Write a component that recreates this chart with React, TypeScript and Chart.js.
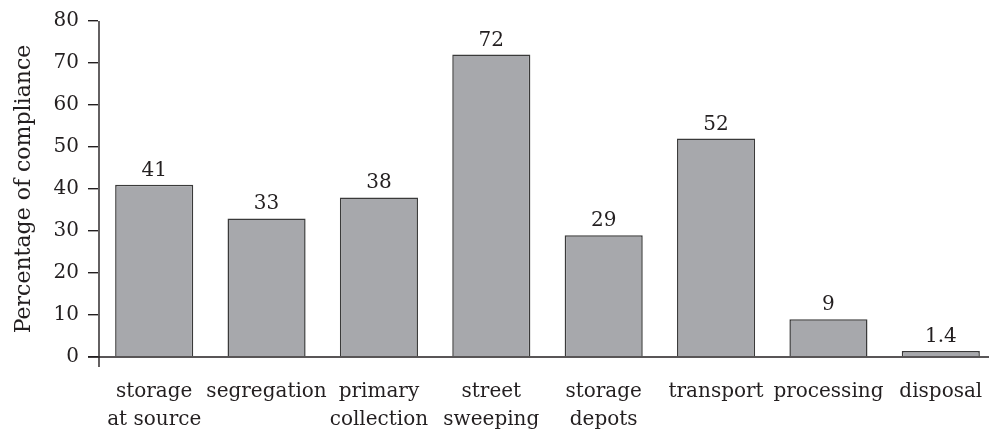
import React, { useEffect, useRef } from "react";
import { Chart, registerables } from "chart.js";

Chart.register(...registerables);

const categories: string[][] = [
  ["storage", "at source"],
  ["segregation"],
  ["primary", "collection"],
  ["street", "sweeping"],
  ["storage", "depots"],
  ["transport"],
  ["processing"],
  ["disposal"],
];
const values: number[] = [41, 33, 38, 72, 29, 52, 9, 1.4];
const valueLabels: string[] = ["41", "33", "38", "72", "29", "52", "9", "1.4"];
const yTitle = "Percentage of compliance";

const FONT = "'DejaVu Serif', serif";
const INK = "#231f20";

const axisPlugin = {
  id: "axisLines",
  afterDraw(chart: any) {
    const { ctx, chartArea } = chart;
    ctx.save();
    ctx.strokeStyle = INK;
    ctx.lineWidth = 1.4;
    ctx.beginPath();
    ctx.moveTo(chartArea.left + 1, chartArea.top);
    ctx.lineTo(chartArea.left + 1, chartArea.bottom + 10);
    ctx.moveTo(chartArea.left - 10, chartArea.bottom);
    ctx.lineTo(chart.width, chartArea.bottom);
    ctx.stroke();
    // value labels
    const meta = chart.getDatasetMeta(0);
    ctx.fillStyle = INK;
    ctx.font = `20px ${FONT}`;
    ctx.textAlign = "center";
    ctx.textBaseline = "alphabetic";
    meta.data.forEach((bar: any, i: number) => {
      ctx.fillText(valueLabels[i], bar.x, bar.y - 9);
    });
    ctx.restore();
  },
};

export default function App() {
  const ref = useRef<HTMLCanvasElement | null>(null);
  useEffect(() => {
    if (!ref.current) return;
    const chart = new Chart(ref.current, {
      type: "bar",
      data: {
        labels: categories,
        datasets: [
          {
            data: values,
            backgroundColor: "#a7a8ac",
            borderColor: "#3a3a3a",
            borderWidth: 1.5,
            barPercentage: 0.695,
            categoryPercentage: 1,
          },
        ],
      },
      options: {
        responsive: false,
        animation: false,
        events: [],
        layout: { padding: { top: 19, left: 0, right: 0, bottom: 0 } },
        plugins: { legend: { display: false }, tooltip: { enabled: false } },
        scales: {
          x: {
            grid: { display: false },
            border: { display: false },
            ticks: {
              color: INK,
              font: { family: FONT, size: 20, lineHeight: 1.38 },
              padding: 13,
              maxRotation: 0,
              autoSkip: false,
            },
            afterFit(scale: any) {
              scale.height = 72;
            },
          },
          y: {
            min: 0,
            max: 80,
            ticks: {
              stepSize: 10,
              color: INK,
              font: { family: FONT, size: 20 },
              padding: 9,
            },
            grid: {
              drawOnChartArea: false,
              tickLength: 10,
              color: INK,
              lineWidth: 1.4,
            },
            border: { display: false },
            title: {
              display: true,
              text: yTitle,
              color: INK,
              font: { family: FONT, size: 22 },
              padding: { top: 11, bottom: 0 },
            },
            afterFit(scale: any) {
              scale.width = 98;
            },
          },
        },
      },
      plugins: [axisPlugin],
    });
    return () => chart.destroy();
  }, []);
  return (
    <div
      style={{
        position: "fixed",
        left: 0,
        top: 0,
        width: 989,
        height: 429,
        overflow: "hidden",
        background: "#fff",
      }}
    >
      <canvas ref={ref} width={997} height={429} />
    </div>
  );
}
